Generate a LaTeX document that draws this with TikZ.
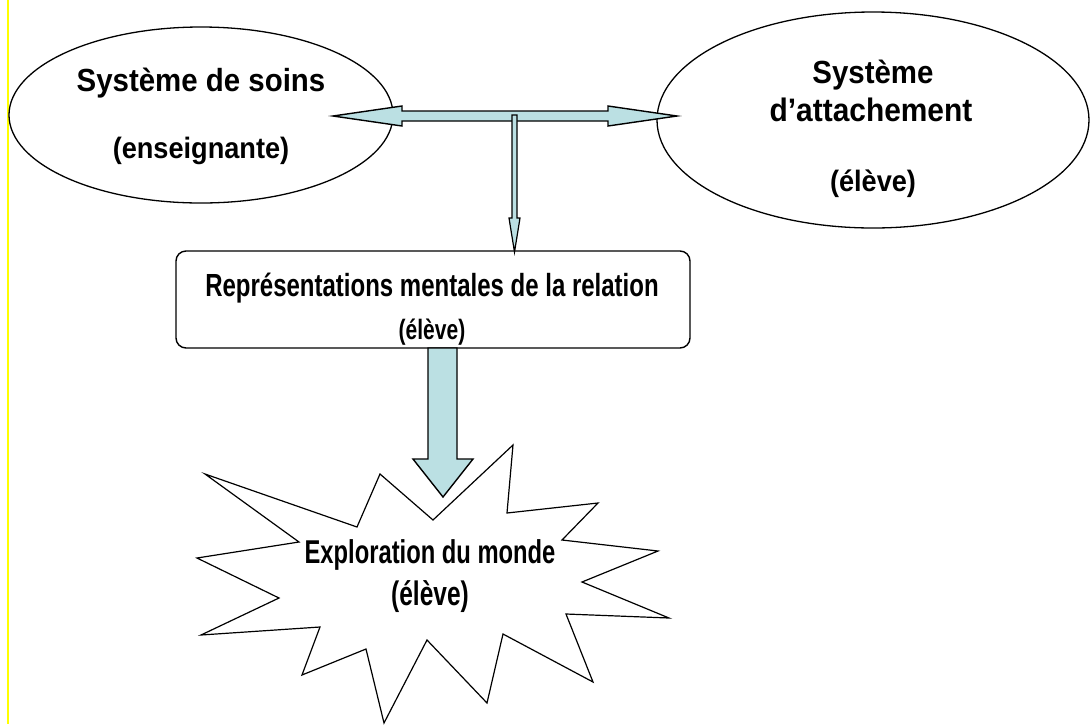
\documentclass[tikz,border=0pt]{standalone}
\usepackage{fontspec}
\setmainfont{Liberation Sans}
\newfontfamily\fa[FakeStretch=0.92]{Liberation Sans}
\newfontfamily\fb[FakeStretch=0.75]{Liberation Sans}
\newfontfamily\fc[FakeStretch=0.72]{Liberation Sans}
\usetikzlibrary{shapes.geometric}
\definecolor{arrowblue}{RGB}{187,224,227}
\definecolor{bordery}{RGB}{255,255,0}
\tikzset{
  lbl/.style={anchor=base, inner sep=0pt, font=#1},
  oval/.style={ellipse, draw=black, line width=1.3pt, fill=white},
  blockarrow/.style={draw=black, line width=1.4pt, fill=arrowblue, line join=miter},
}
\begin{document}
\begin{tikzpicture}[x=1pt, y=-1pt]
\useasboundingbox (0,0) rectangle (1090,724);
\fill[white] (0,0) rectangle (1090,724);
\draw[bordery, line width=2pt] (8,0) -- (8,724);

% ellipses
\node[oval, minimum width=384pt, minimum height=176pt] (soins) at (201,115) {};
\node[oval, minimum width=432pt, minimum height=216pt] (attach) at (873,120) {};

% rounded box
\node[draw=black, line width=1.4pt, rounded corners=10pt, minimum width=514pt, minimum height=97pt, fill=white] (repr) at (433,299.5) {};

% star
\draw[black, line width=1.2pt, fill=white, line join=miter]
  (205,474) -- (357,527) -- (380,474) -- (433,520) -- (513,445) -- (507,513)
  -- (598,503) -- (562,540) -- (658,551) -- (582,582) -- (669,618) -- (566,614)
  -- (593,682) -- (503,634) -- (487,703) -- (427,640) -- (384,723) -- (366,649)
  -- (302,675) -- (320,627) -- (201,635) -- (279,598) -- (197,558) -- (299,542)
  -- cycle;
\coordinate (star) at (430,580);

% double arrow between the ellipses
\coordinate (dl) at (333,116);
\coordinate (dr) at (677,116);
\draw[blockarrow] (dl) -- (402,106) -- (402,111) -- (608,111) -- (608,106) -- (dr)
  -- (608,126) -- (608,121) -- (402,121) -- (402,126) -- cycle;

% thin arrow down to the box
\coordinate (vt) at (514.5,115);
\coordinate (vb) at (514.5,252);
\draw[blockarrow, line width=1.2pt] (512,115) -- (517,115) -- (517,218) -- (520,218) -- (vb)
  -- (509,218) -- (512,218) -- cycle;

% big arrow down to the star
\coordinate (bt) at (442.5,348);
\coordinate (bb) at (443,497);
\draw[blockarrow] (428,348) -- (457,348) -- (457,459) -- (473,459) -- (bb)
  -- (413,459) -- (428,459) -- cycle;

% texts
\node[lbl=\fa\bfseries\fontsize{32}{36}\selectfont] (t1) at (201,91) {Système de soins};
\node[lbl=\fa\bfseries\fontsize{29.5}{34}\selectfont] (t2) at (201,158) {(enseignante)};
\node[lbl=\fa\bfseries\fontsize{32}{36}\selectfont] (t3) at (873,83) {Système};
\node[lbl=\fa\bfseries\fontsize{32.5}{36}\selectfont] (t4) at (871,121.5) {d’attachement};
\node[lbl=\fa\bfseries\fontsize{29.5}{34}\selectfont] (t5) at (873,191.5) {(élève)};
\node[lbl=\fb\bfseries\fontsize{32}{36}\selectfont] (t6) at (432,296) {Représentations mentales de la relation};
\node[lbl=\fb\bfseries\fontsize{28}{32}\selectfont] (t7) at (432,339) {(élève)};
\node[lbl=\fc\bfseries\fontsize{33}{38}\selectfont] (t8) at (430,563) {Exploration du monde};
\node[lbl=\fc\bfseries\fontsize{34}{38}\selectfont] (t9) at (430,605) {(élève)};
\end{tikzpicture}
\end{document}
